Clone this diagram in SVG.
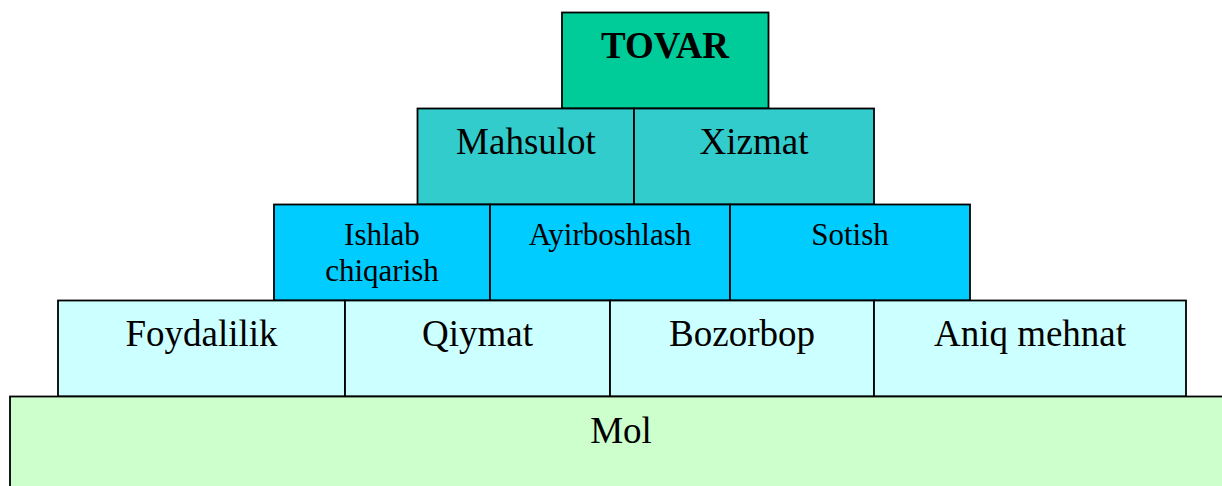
<svg xmlns="http://www.w3.org/2000/svg" width="1222" height="486" viewBox="0 0 1222 486">
<style>
rect{stroke:#000;stroke-width:1.8}
text{font-family:"Liberation Serif","Times New Roman",serif;fill:#000;text-anchor:middle;font-size:37px}
.l3{font-size:31px}
.b{font-weight:bold;font-size:37px}
</style>
<rect width="1222" height="486" fill="#fff" style="stroke:none"/>
<g id="tovar"><rect x="562" y="12.5" width="206.5" height="96" fill="#00CC99"/><text class="b" x="665" y="58">TOVAR</text></g>
<g id="mahsulot"><rect x="417.5" y="108.5" width="216.5" height="96" fill="#33CCCC"/><text x="526" y="154">Mahsulot</text></g>
<g id="xizmat"><rect x="634" y="108.5" width="240" height="96" fill="#33CCCC"/><text x="754" y="154">Xizmat</text></g>
<g id="ishlab"><rect x="274" y="204.5" width="216" height="96" fill="#00CCFF"/><text class="l3" x="382" y="245">Ishlab</text><text class="l3" x="382" y="281">chiqarish</text></g>
<g id="ayirboshlash"><rect x="490" y="204.5" width="240" height="96" fill="#00CCFF"/><text class="l3" x="610" y="245">Ayirboshlash</text></g>
<g id="sotish"><rect x="730" y="204.5" width="240" height="96" fill="#00CCFF"/><text class="l3" x="850" y="245">Sotish</text></g>
<g id="foydalilik"><rect x="58" y="300.5" width="287" height="96" fill="#CCFFFF"/><text x="201.5" y="346">Foydalilik</text></g>
<g id="qiymat"><rect x="345" y="300.5" width="265" height="96" fill="#CCFFFF"/><text x="477.5" y="346">Qiymat</text></g>
<g id="bozorbop"><rect x="610" y="300.5" width="264" height="96" fill="#CCFFFF"/><text x="742" y="346">Bozorbop</text></g>
<g id="aniq"><rect x="874" y="300.5" width="312" height="96" fill="#CCFFFF"/><text x="1030" y="346">Aniq mehnat</text></g>
<g id="mol"><rect x="10" y="396.5" width="1230" height="100" fill="#CCFFCC"/><text x="621" y="443">Mol</text></g>
<g id="connectors"/>
</svg>
